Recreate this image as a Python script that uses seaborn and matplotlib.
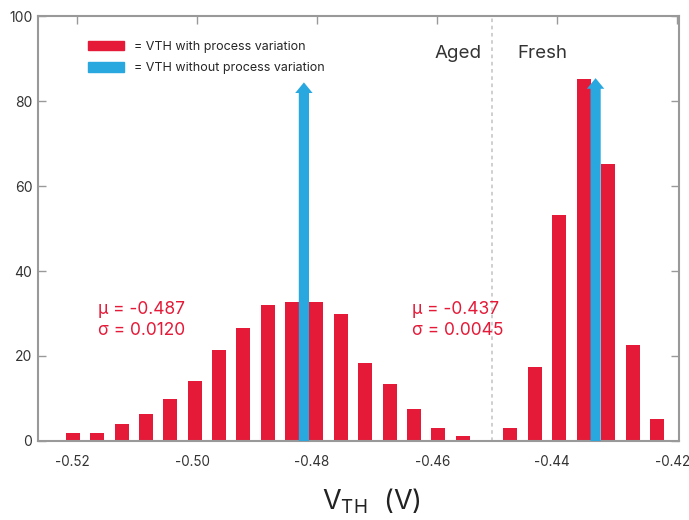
import numpy as np
import pandas as pd
import matplotlib
matplotlib.use("Agg")
import matplotlib.pyplot as plt
import matplotlib.transforms as mtransforms
from matplotlib.patches import Rectangle
import seaborn as sns

# histogram bins (bin centre in V, height)
aged_vth = [-0.5207, -0.5167, -0.5125, -0.5085, -0.5045, -0.5003, -0.4963, -0.4923,
            -0.4882, -0.4842, -0.4802, -0.4760, -0.4720, -0.4678, -0.4638, -0.4598, -0.4557]
aged_count = [1.9, 1.9, 4.0, 6.4, 9.9, 14.2, 21.3, 26.6,
              31.9, 32.6, 32.6, 30.0, 18.4, 13.5, 7.6, 3.1, 1.2]
fresh_vth = [-0.4478, -0.4437, -0.4397, -0.4355, -0.4315, -0.4273, -0.4233]
fresh_count = [3.1, 17.5, 53.2, 85.2, 65.2, 22.7, 5.2]

# nominal VTH without process variation (arrows)
nominal_vth = [-0.4822, -0.4336]
nominal_tip = [84.4, 85.4]

stats_text = [("μ = -0.487", "σ = 0.0120"), ("μ = -0.437", "σ = 0.0045")]
stats_x = [-0.5165, -0.4642]
boundary = -0.4508

xticks = [-0.52, -0.50, -0.48, -0.46, -0.44, -0.42]
yticks = [0, 20, 40, 60, 80, 100]

RED = "#E41A38"
BLUE = "#29A7DF"
GREY = "#333333"

sns.set_style("white")
plt.rcParams['font.family'] = ['Inter', 'DejaVu Sans']

df = pd.DataFrame({"vth": aged_vth + fresh_vth, "count": aged_count + fresh_count})

fig, ax = plt.subplots(figsize=(6.89, 5.2), dpi=100)
fig.subplots_adjust(left=0.0552, right=0.9855, bottom=0.152, top=0.969)

sns.barplot(data=df, x="vth", y="count", native_scale=True, width=0.58,
            color=RED, saturation=1, linewidth=0, ax=ax, zorder=2)

for x, tip in zip(nominal_vth, nominal_tip):
    ax.arrow(x, 0, 0, tip, width=0.0017, head_width=0.0029, head_length=2.5,
             length_includes_head=True, color=BLUE, lw=0, zorder=3)

ax.axvline(boundary, color="#cccccc", linestyle=(0, (2, 2)), lw=1.3, zorder=1)

ax.text(-0.4565, 91.2, "Aged", ha="center", va="center", fontsize=13.5, color=GREY)
ax.text(-0.4425, 91.2, "Fresh", ha="center", va="center", fontsize=13.5, color=GREY)

for x, (mu, sd) in zip(stats_x, stats_text):
    ax.text(x, 31.0, mu, ha="left", va="center", fontsize=12.5, color=RED)
    ax.text(x, 26.0, sd, ha="left", va="center", fontsize=12.5, color=RED)

handles = [Rectangle((0, 0), 1, 1, color=RED), Rectangle((0, 0), 1, 1, color=BLUE)]
ax.legend(handles, ["= VTH with process variation", "= VTH without process variation"],
          loc="upper left", bbox_to_anchor=(0.078, 0.942), frameon=False, fontsize=9,
          handlelength=2.9, handleheight=0.8, handletextpad=0.8, labelspacing=0.75,
          borderpad=0, borderaxespad=0)

ax.set_xlim(-0.5265, -0.4197)
ax.set_ylim(0, 100)
ax.set_xticks(xticks)
ax.set_xticklabels([f"{t:.2f}" for t in xticks])
ax.set_yticks(yticks)
ax.set_xlabel(r"$\mathregular{V_{TH}}$  (V)", fontsize=19.5, color="#222222", labelpad=13)
ax.xaxis.label.set_x(0.52)
ax.set_ylabel("")

for s in ax.spines.values():
    s.set_color("#999999")
    s.set_linewidth(1.5)
ax.tick_params(axis="y", which="both", direction="in", left=True, right=True,
               length=6, width=1, color="#999999", labelsize=10, labelcolor=GREY, pad=4)
ax.tick_params(axis="x", which="both", direction="in", top=True, bottom=False,
               length=6, width=1, color="#999999", labelsize=9.7, labelcolor=GREY, pad=10)

# labels sit a few pixels left of their ticks in the reference
shift = mtransforms.ScaledTranslation(-5 / 100, 0, fig.dpi_scale_trans)
for lab in ax.get_xticklabels():
    lab.set_transform(lab.get_transform() + shift)

plt.savefig("out.png", dpi=100)
